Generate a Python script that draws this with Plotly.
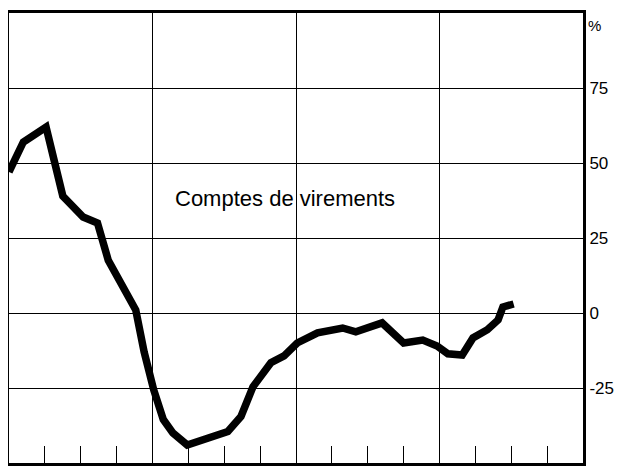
import plotly.graph_objects as go

# months from start of the chart (4 years = 48 months)
mois = [0, 1.2, 3.1, 4.5, 6.2, 7.4, 8.3, 10.6, 11.3, 12.1, 12.9, 13.7, 14.9, 16.9,
        18.3, 19.4, 20.4, 21.9, 23.0, 24.1, 25.8, 27.9, 29.0, 31.2, 33.0, 34.6,
        35.8, 36.7, 37.9, 38.8, 40.0, 40.9, 41.3, 42.2]
# annual change, %
variation = [47, 57, 62, 39, 32, 30, 17.6, 1, -13, -25.6, -35.5, -40, -44, -41.5,
             -39.5, -34.5, -24.6, -16.6, -14.3, -10, -6.6, -5, -6.3, -3.3, -10, -9,
             -11, -13.6, -14, -8.3, -5.6, -2.3, 2, 3]

y_ticks = [-25, 0, 25, 50, 75]
y_labels = ["-25", "0", "25", "50", "75"]
serie = "Comptes de virements"

font = "Liberation Sans, Arial, Helvetica, sans-serif"

fig = go.Figure()
fig.add_trace(go.Scatter(x=mois, y=variation, mode="lines",
                         line=dict(color="black", width=7.5),
                         showlegend=False, hoverinfo="skip"))

fig.add_annotation(x=23.1, y=38.3, text=serie, showarrow=False,
                   font=dict(family=font, size=22, color="black"))
fig.add_annotation(xref="paper", x=1, y=96, text="%", showarrow=False,
                   xanchor="left", xshift=3, font=dict(family=font, size=15, color="black"))

fig.update_xaxes(range=[0, 48], dtick=12, tick0=0, showgrid=True, gridcolor="black",
                 gridwidth=1, showticklabels=False, ticks="", zeroline=False,
                 showline=True, linecolor="black", linewidth=3, mirror=True,
                 automargin=False,
                 minor=dict(dtick=3, tick0=0, ticks="inside", ticklen=17,
                            tickcolor="black", tickwidth=1, showgrid=False))
fig.update_yaxes(range=[-50, 100], side="right", tickvals=y_ticks, ticktext=y_labels,
                 showgrid=True, gridcolor="black", gridwidth=1, zeroline=False,
                 showline=True, linecolor="black", linewidth=3, mirror=True,
                 ticks="", automargin=False,
                 tickfont=dict(family=font, size=17, color="black"))

# page body has an 8px margin, so the figure is a bit smaller than the window
fig.update_layout(width=617, height=465, margin=dict(l=1, r=42, t=5, b=10),
                  plot_bgcolor="white", paper_bgcolor="white",
                  font=dict(family=font, color="black"))

fig.write_html("out.html")
